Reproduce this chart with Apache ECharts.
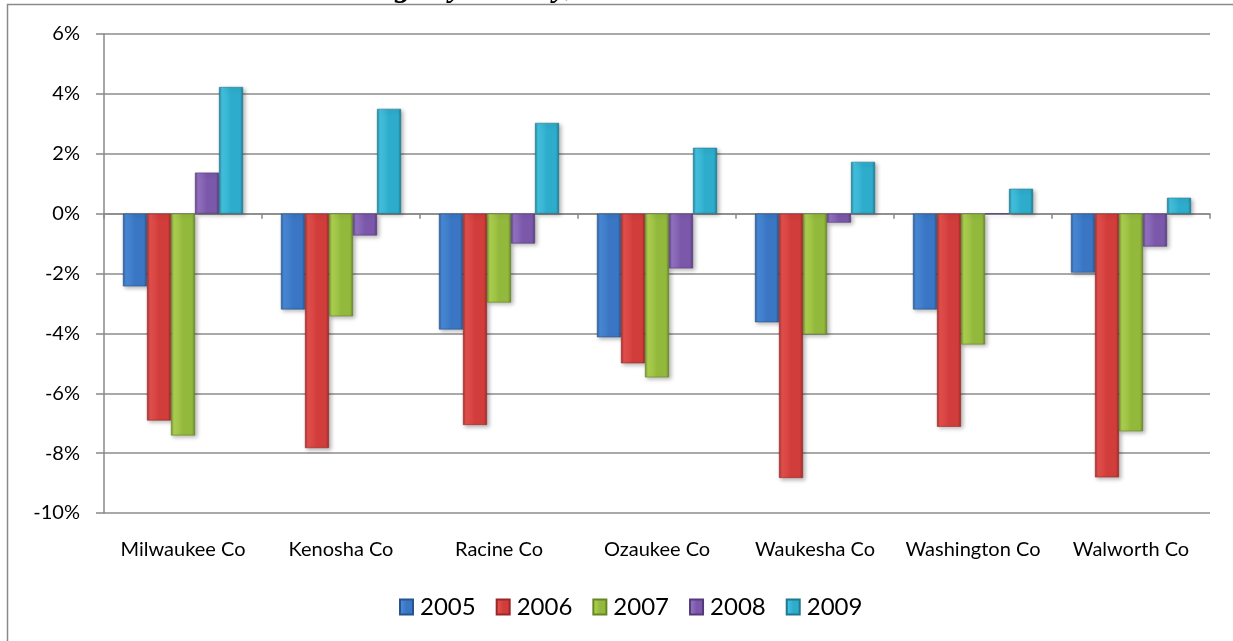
<!DOCTYPE html>
<html>
<head>
<meta charset="utf-8">
<script src="https://cdn.jsdelivr.net/npm/echarts@6/dist/echarts.min.js"></script>
<style>
html,body{margin:0;padding:0;background:#fff;overflow:hidden;}
#c{width:1233px;height:641px;}
</style>
</head>
<body>
<div id="c"></div>
<script>
const categories = ['Milwaukee Co','Kenosha Co','Racine Co','Ozaukee Co','Waukesha Co','Washington Co','Walworth Co'];
const seriesNames = ['2005','2006','2007','2008','2009'];
const v2005 = [-2.43, -3.20, -3.87, -4.13, -3.63, -3.20, -1.97];
const v2006 = [-6.91, -7.83, -7.06, -5.00, -8.83, -7.12, -8.81];
const v2007 = [-7.41, -3.43, -2.97, -5.47, -4.03, -4.37, -7.27];
const v2008 = [1.37, -0.73, -1.00, -1.83, -0.30, 0, -1.10];
const v2009 = [4.23, 3.50, 3.03, 2.20, 1.73, 0.83, 0.53];
const yTicks = {min: -10, max: 6, step: 2};

const values = [v2005, v2006, v2007, v2008, v2009];
const palettes = [
  ['#2c5f9f', '#4a8ad6', '#3a76c4', '#27548e'],
  ['#a22c2a', '#e4514e', '#d03d3a', '#9a2826'],
  ['#6f8f2a', '#afd152', '#93b93c', '#678526'],
  ['#5b3f82', '#9473c2', '#7b58aa', '#553a7a'],
  ['#1f8099', '#45c3e0', '#2eaccb', '#1d7890']
];
function grad(p){
  return new echarts.graphic.LinearGradient(0,0,1,0,[
    {offset:0,color:p[0]},{offset:0.12,color:p[1]},{offset:0.5,color:p[2]},{offset:0.88,color:p[2]},{offset:1,color:p[3]}
  ]);
}
const chart = echarts.init(document.getElementById('c'), null, {renderer:'canvas'});
const series = seriesNames.map((n,i)=>({
  name:n, type:'bar', xAxisIndex:0, data: values[i],
  barGap:'0%', barCategoryGap:'24%',
  itemStyle:{color:grad(palettes[i]), borderColor:palettes[i][3], borderWidth:0.6,
    shadowBlur:4, shadowColor:'rgba(0,0,0,0.28)', shadowOffsetX:2, shadowOffsetY:2},
  emphasis:{disabled:true}
}));
chart.setOption({
  animation:false,
  backgroundColor:'#ffffff',
  textStyle:{fontFamily:'Lato'},
  graphic:[
    {type:'polyline', z:0, shape:{points:[[7.5,700],[7.5,4.5],[1300,4.5]]}, style:{fill:'none', stroke:'#8a8a8a', lineWidth:1.5}},
    {type:'rect', z:100, shape:{x:1214, y:10, width:40, height:700}, style:{fill:'#ffffff'}},
    {type:'text', z:10, left:213, top:-28, style:{text:'Percent Change by County, 2005-2009', font:'italic bold 32px "Liberation Serif"', fill:'#000'}}
  ],
  grid:{left:104, right:23, top:34, bottom:128, containLabel:false},
  legend:{
    data:seriesNames, top:590, left:394, icon:'rect',
    itemWidth:13, itemHeight:15, itemGap:20,
    textStyle:{fontFamily:'Lato', fontSize:24, color:'#000', padding:[0,0,0,2]}
  },
  xAxis:[
    {type:'category', data:categories, position:'bottom',
      axisLine:{show:true, onZero:true, lineStyle:{color:'#888', width:1.5}},
      axisTick:{show:true, length:5, lineStyle:{color:'#888', width:1.5}},
      axisLabel:{show:false}, splitLine:{show:false}},
    {type:'category', data:categories, position:'bottom',
      axisLine:{show:false, onZero:false}, axisTick:{show:false},
      axisLabel:{show:true, margin:27, fontSize:20, color:'#000', fontFamily:'Lato', interval:0}}
  ],
  yAxis:{type:'value', min:yTicks.min, max:yTicks.max, interval:yTicks.step,
    axisLine:{show:true, lineStyle:{color:'#888', width:1.5}},
    axisTick:{show:true, length:8, lineStyle:{color:'#888', width:1.5}},
    axisLabel:{formatter:'{value}%', margin:24, fontSize:20, color:'#000', fontFamily:'Lato'},
    splitLine:{show:true, lineStyle:{color:'#8c8c8c', width:1.5}}
  },
  series: series
});
</script>
</body>
</html>
